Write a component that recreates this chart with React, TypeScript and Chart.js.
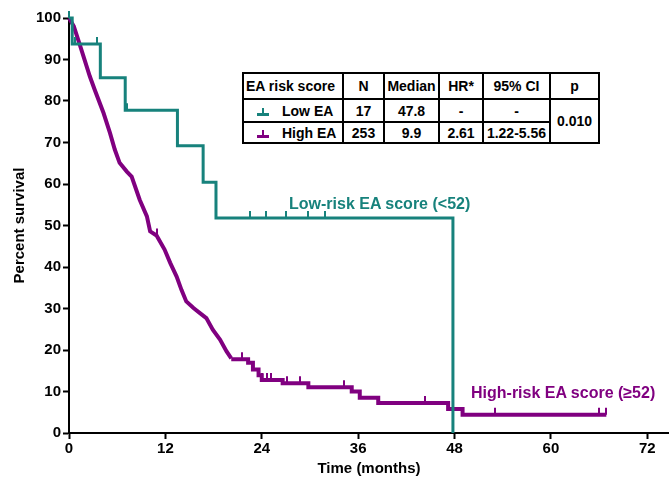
import React, { useEffect, useRef } from 'react';
import { Chart, registerables } from 'chart.js';

Chart.register(...registerables);

const TEAL = '#17827c';
const PURPLE = '#800080';
const FONT = '"Liberation Sans", Arial, Helvetica, sans-serif';

const xTickValues = [0, 12, 24, 36, 48, 60, 72];

// Low EA (teal) Kaplan-Meier steps
const lowTimes = [0, 0.4, 3.9, 7.0, 13.5, 16.7, 18.3, 47.8];
const lowSurvival = [100, 93.75, 85.6, 77.8, 69.2, 60.4, 51.8, 0];
const lowCensorTimes = [0, 0.8, 3.5, 7.2, 22.5, 24.5, 27.0, 29.7, 31.9];
const lowCensorSurvival = [100, 93.75, 93.75, 77.8, 51.8, 51.8, 51.8, 51.8, 51.8];

// High EA (purple) dense early part
const highEarlyTimes = [0, 0.6, 1.4, 2.6, 3.2, 4.3, 5.1, 5.7, 6.3, 7.2, 7.8, 8.8, 9.7, 10.1, 10.9, 11.9, 12.6, 13.4, 14.0, 14.6, 15.5, 16.3, 17.1, 17.9, 18.8, 19.6, 20.2];
const highEarlySurvival = [100, 98.0, 93.2, 85.9, 82.7, 77.1, 72.3, 68.3, 65.1, 63.0, 61.8, 56.2, 52.2, 48.6, 47.6, 44.2, 41.0, 37.7, 34.5, 31.7, 30.1, 28.9, 27.7, 24.9, 22.5, 19.7, 18.0];
// High EA tail steps
const highTailTimes = [20.2, 22.3, 22.9, 23.6, 24.0, 26.6, 29.8, 35.2, 36.2, 38.5, 47.2, 49.0, 66.9];
const highTailSurvival = [17.8, 16.9, 15.3, 13.9, 12.8, 12.0, 11.0, 10.0, 8.5, 7.2, 5.8, 4.4, 4.4];
const highCensorTimes = [10.9, 21.5, 24.0, 24.6, 25.2, 27.1, 28.7, 34.2, 44.3, 53.0, 66.0, 66.9];
const highCensorSurvival = [47.6, 17.8, 12.8, 12.8, 12.8, 12.0, 12.0, 11.0, 7.2, 4.4, 4.4, 4.4];

const tableHeader = ['EA risk score', 'N', 'Median', 'HR*', '95% CI', 'p'];
const lowRow = ['Low EA', '17', '47.8', '-', '-'];
const highRow = ['High EA', '253', '9.9', '2.61', '1.22-5.56'];
const pValue = '0.010';

const toPoints = (xs: number[], ys: number[]) => xs.map((x, i) => ({ x, y: ys[i] }));

const censorPlugin = {
  id: 'censorTicks',
  afterDatasetsDraw(chart: any) {
    const { ctx, scales } = chart;
    const draw = (ts: number[], ss: number[], color: string) => {
      ctx.save();
      ctx.strokeStyle = color;
      ctx.lineWidth = 2;
      ts.forEach((t, i) => {
        const px = Math.round(scales.x.getPixelForValue(t));
        const py = scales.y.getPixelForValue(ss[i]);
        ctx.beginPath();
        ctx.moveTo(px, py);
        ctx.lineTo(px, py - 7);
        ctx.stroke();
      });
      ctx.restore();
    };
    draw(lowCensorTimes, lowCensorSurvival, TEAL);
    draw(highCensorTimes, highCensorSurvival, PURPLE);
  },
};

function Marker({ color }: { color: string }) {
  return (
    <svg width="12" height="8" style={{ display: 'inline-block', verticalAlign: 'middle', marginRight: 13 }}>
      <line x1="0" y1="6.5" x2="12" y2="6.5" stroke={color} strokeWidth="3" />
      <line x1="6" y1="0" x2="6" y2="7" stroke={color} strokeWidth="2" />
    </svg>
  );
}

export default function App() {
  const canvasRef = useRef<HTMLCanvasElement | null>(null);

  useEffect(() => {
    if (!canvasRef.current) return;
    const tickFont = { family: FONT, size: 15, weight: 'bold' as const };
    const chart = new Chart(canvasRef.current, {
      type: 'line',
      data: {
        datasets: [
          {
            label: 'Low EA',
            data: toPoints(lowTimes, lowSurvival),
            borderColor: TEAL,
            borderWidth: 3,
            stepped: 'before',
            pointRadius: 0,
            fill: false,
            clip: 8,
          },
          {
            label: 'High EA',
            data: toPoints(highEarlyTimes, highEarlySurvival),
            borderColor: PURPLE,
            borderWidth: 4,
            pointRadius: 0,
            tension: 0,
            fill: false,
            clip: 8,
          },
          {
            label: 'High EA tail',
            data: toPoints(highTailTimes, highTailSurvival),
            borderColor: PURPLE,
            borderWidth: 4,
            stepped: 'before',
            pointRadius: 0,
            fill: false,
            clip: 8,
          },
        ],
      },
      options: {
        responsive: false,
        animation: false,
        devicePixelRatio: 1,
        layout: { padding: { top: 18, left: 0, right: 0, bottom: 0 } },
        plugins: { legend: { display: false }, tooltip: { enabled: false } },
        scales: {
          x: {
            type: 'linear',
            min: 0,
            max: 74.7,
            afterBuildTicks: (scale: any) => {
              scale.ticks = xTickValues.map((v) => ({ value: v }));
            },
            afterFit: (scale: any) => {
              scale.height = 46;
            },
            ticks: { font: tickFont, color: '#000', padding: 1, maxRotation: 0, autoSkip: false },
            grid: { drawOnChartArea: false, drawTicks: true, tickLength: 6, tickColor: '#000', tickWidth: 2 },
            border: { display: true, color: '#000', width: 2 },
            title: {
              display: true,
              text: 'Time (months)',
              color: '#000',
              font: { family: FONT, size: 15, weight: 'bold' },
              padding: { top: 0, bottom: 1 },
            },
          },
          y: {
            type: 'linear',
            min: 0,
            max: 100,
            afterFit: (scale: any) => {
              scale.width = 69;
            },
            ticks: { stepSize: 10, font: tickFont, color: '#000', padding: 2 },
            grid: { drawOnChartArea: false, drawTicks: true, tickLength: 6, tickColor: '#000', tickWidth: 2 },
            border: { display: true, color: '#000', width: 2 },
            title: {
              display: true,
              text: 'Percent survival',
              color: '#000',
              font: { family: FONT, size: 15, weight: 'bold' },
              padding: { top: 11, bottom: 0 },
            },
          },
        },
      },
      plugins: [censorPlugin],
    });
    return () => chart.destroy();
  }, []);

  const cell: React.CSSProperties = {
    border: '2px solid #000',
    padding: 0,
    textAlign: 'center',
    whiteSpace: 'nowrap',
    overflow: 'visible',
  };

  return (
    <div
      style={{
        position: 'fixed',
        left: 0,
        top: 0,
        width: 669,
        height: 479,
        background: '#fff',
        fontFamily: FONT,
        color: '#000',
      }}
    >
      <canvas ref={canvasRef} width={669} height={479} style={{ display: 'block' }} />
      <table
        style={{
          position: 'absolute',
          left: 242,
          top: 72,
          width: 358,
          borderCollapse: 'collapse',
          tableLayout: 'fixed',
          fontSize: 14,
          fontWeight: 'bold',
          background: '#fff',
          lineHeight: '16px',
        }}
      >
        <colgroup>
          <col style={{ width: 100 }} />
          <col style={{ width: 41 }} />
          <col style={{ width: 55 }} />
          <col style={{ width: 44 }} />
          <col style={{ width: 67 }} />
          <col style={{ width: 49 }} />
        </colgroup>
        <tbody>
          <tr style={{ height: 26 }}>
            {tableHeader.map((h, i) => (
              <td key={h} style={{ ...cell, textAlign: i === 0 ? 'left' : 'center', paddingLeft: i === 0 ? 2 : 0 }}>
                {h}
              </td>
            ))}
          </tr>
          <tr style={{ height: 23 }}>
            {lowRow.map((v, i) => (
              <td key={i} style={{ ...cell, textAlign: i === 0 ? 'left' : 'center', paddingLeft: i === 0 ? 13 : 0 }}>
                {i === 0 ? <Marker color={TEAL} /> : null}
                {v}
              </td>
            ))}
            <td rowSpan={2} style={cell}>
              {pValue}
            </td>
          </tr>
          <tr style={{ height: 21 }}>
            {highRow.map((v, i) => (
              <td key={i} style={{ ...cell, textAlign: i === 0 ? 'left' : 'center', paddingLeft: i === 0 ? 13 : 0 }}>
                {i === 0 ? <Marker color={PURPLE} /> : null}
                {v}
              </td>
            ))}
          </tr>
        </tbody>
      </table>
      <div
        style={{
          position: 'absolute',
          left: 289,
          top: 195,
          fontSize: 16,
          lineHeight: '18px',
          fontWeight: 'bold',
          color: TEAL,
          whiteSpace: 'nowrap',
        }}
      >
        Low-risk EA score (&lt;52)
      </div>
      <div
        style={{
          position: 'absolute',
          left: 471,
          top: 384,
          fontSize: 16,
          lineHeight: '18px',
          fontWeight: 'bold',
          color: PURPLE,
          whiteSpace: 'nowrap',
        }}
      >
        High-risk EA score (≥52)
      </div>
    </div>
  );
}
